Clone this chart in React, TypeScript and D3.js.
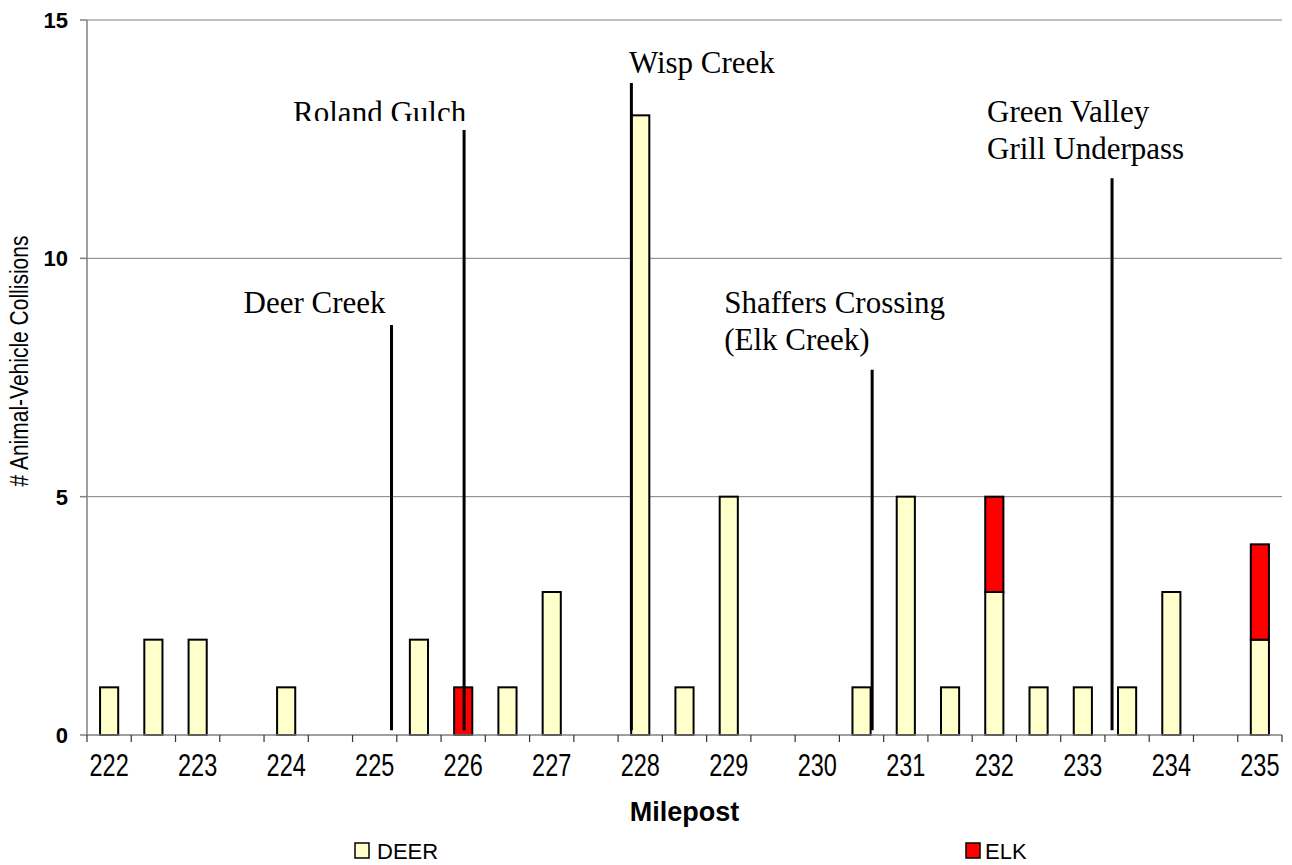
import React from "react";
import * as d3 from "d3";

// mileposts in half-mile steps, collisions per half mile
const mileposts = [
  222, 222.5, 223, 223.5, 224, 224.5, 225, 225.5, 226, 226.5, 227, 227.5, 228,
  228.5, 229, 229.5, 230, 230.5, 231, 231.5, 232, 232.5, 233, 233.5, 234, 234.5,
  235,
];
const deer = [1, 2, 2, 0, 1, 0, 0, 2, 0, 1, 3, 0, 13, 1, 5, 0, 0, 1, 5, 1, 3, 1, 1, 1, 3, 0, 2];
const elk = [0, 0, 0, 0, 0, 0, 0, 0, 1, 0, 0, 0, 0, 0, 0, 0, 0, 0, 0, 0, 2, 0, 0, 0, 0, 0, 2];
const yTicks = [0, 5, 10, 15];
const xLabels = [222, 223, 224, 225, 226, 227, 228, 229, 230, 231, 232, 233, 234, 235];

// crossing structures along the road
const crossingNames = [
  ["Deer Creek"],
  ["Roland Gulch"],
  ["Wisp Creek"],
  ["Shaffers Crossing", "(Elk Creek)"],
  ["Green Valley", "Grill Underpass"],
];
const crossingMileposts = [225.19, 226.01, 227.9, 230.62, 233.33];
const crossingLineTops = [8.6, 12.69, 13.68, 7.66, 11.68];

// label placement relative to top of each marker line
const labelDx = [-148, -171, -2.5, -148, -125];
const labelDy = [-12, -7.5, -9.5, -20, -19.5];

const W = 1292;
const H = 865;
const margin = { left: 87, right: 10, top: 20, bottom: 130 };
const colors = { DEER: "#ffffcc", ELK: "#ff0000" };
const sans = "Arial, 'Liberation Sans', sans-serif";

export default function App() {
  const x = d3
    .scaleBand<string>()
    .domain(mileposts.map(String))
    .range([margin.left, W - margin.right])
    .padding(0);
  const bw = x.bandwidth();
  const barW = bw * 0.41;
  const y = d3
    .scaleLinear()
    .domain([0, 15])
    .range([H - margin.bottom, margin.top]);
  const xm = d3
    .scaleLinear()
    .domain([222, 235])
    .range([x("222")! + bw / 2, x("235")! + bw / 2]);

  const rows = mileposts.map((m, i) => ({ m: String(m), DEER: deer[i], ELK: elk[i] }));
  const series = d3.stack<any>().keys(["DEER", "ELK"])(rows);

  const boundaries = d3.range(mileposts.length + 1).map((i) => margin.left + i * bw);
  const x0 = margin.left;
  const x1 = W - margin.right;
  const yBase = y(0);

  return (
    <svg
      width={W}
      height={H}
      style={{ position: "absolute", left: 0, top: 0, background: "#fff" }}
    >
      <defs>
        <clipPath id="rolandClip">
          <rect x={0} y={0} width={W} height={121} />
        </clipPath>
      </defs>

      {/* grid */}
      {yTicks.filter((t) => t > 0).map((t) => (
        <line key={t} x1={x0} x2={x1} y1={y(t)} y2={y(t)} stroke="#808080" strokeWidth={1} />
      ))}

      {/* y axis */}
      <line x1={x0} x2={x0} y1={y(15)} y2={yBase} stroke="#808080" strokeWidth={1.5} />
      {yTicks.map((t) => (
        <g key={t}>
          <line x1={x0 - 7} x2={x0} y1={y(t)} y2={y(t)} stroke="#808080" strokeWidth={1.5} />
          <text
            x={68}
            y={y(t)}
            dy="0.36em"
            textAnchor="end"
            fontFamily={sans}
            fontWeight="bold"
            fontSize={22}
          >
            {t}
          </text>
        </g>
      ))}
      <text
        transform={`translate(19,361) rotate(-90) scale(1,1.2)`}
        textAnchor="middle"
        dy="0.36em"
        fontFamily={sans}
        fontSize={21}
      >
        # Animal-Vehicle Collisions
      </text>

      {/* bars */}
      {series.map((s) =>
        s.map((d: any, i: number) =>
          d[1] - d[0] > 0 ? (
            <rect
              key={s.key + i}
              x={x(d.data.m)! + bw / 2 - barW / 2}
              y={y(d[1])}
              width={barW}
              height={y(d[0]) - y(d[1])}
              fill={(colors as any)[s.key]}
              stroke="#000"
              strokeWidth={2}
            />
          ) : null
        )
      )}

      {/* x axis */}
      <line x1={x0} x2={x1} y1={yBase} y2={yBase} stroke="#808080" strokeWidth={1.5} />
      {boundaries.map((b, i) => (
        <line key={i} x1={b} x2={b} y1={yBase} y2={yBase + 7} stroke="#333" strokeWidth={1.2} />
      ))}
      {xLabels.map((m) => (
        <text
          key={m}
          transform={`translate(${x(String(m))! + bw / 2},775.5) scale(1,1.3)`}
          textAnchor="middle"
          fontFamily={sans}
          fontSize={23.5}
        >
          {m}
        </text>
      ))}
      <text
        x={(x0 + x1) / 2}
        y={821}
        textAnchor="middle"
        fontFamily={sans}
        fontWeight="bold"
        fontSize={27}
      >
        Milepost
      </text>

      {/* crossing markers */}
      {crossingNames.map((lines, i) => {
        const lx = xm(crossingMileposts[i]);
        const top = y(crossingLineTops[i]);
        const n = lines.length;
        return (
          <g key={i}>
            <line x1={lx} x2={lx} y1={top} y2={y(0.1)} stroke="#000" strokeWidth={3} />
            <g clipPath={i === 1 ? "url(#rolandClip)" : undefined}>
              {lines.map((t, j) => (
                <text
                  key={j}
                  x={lx + labelDx[i]}
                  y={top + labelDy[i] - (n - 1 - j) * 36.8}
                  fontFamily="'Times New Roman', 'Liberation Serif', serif"
                  fontSize={31}
                >
                  {t}
                </text>
              ))}
            </g>
          </g>
        );
      })}

      {/* legend */}
      {[
        { k: "DEER", sx: 355, tx: 377 },
        { k: "ELK", sx: 966, tx: 985 },
      ].map((l) => (
        <g key={l.k}>
          <rect x={l.sx} y={843} width={14} height={15} fill={(colors as any)[l.k]} stroke="#000" strokeWidth={1.5} />
          <text x={l.tx} y={858.5} fontFamily={sans} fontSize={22}>
            {l.k}
          </text>
        </g>
      ))}
    </svg>
  );
}
